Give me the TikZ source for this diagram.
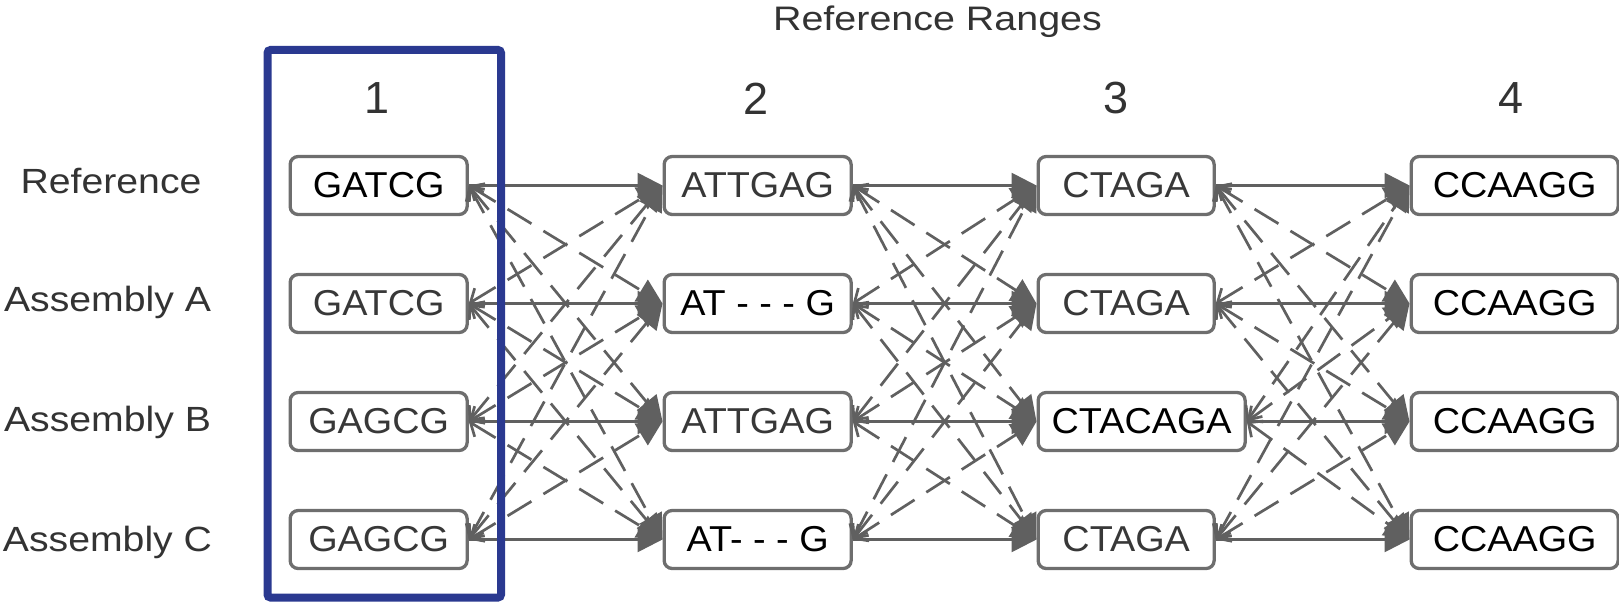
\documentclass[tikz,border=0pt]{standalone}
\usepackage{graphicx}
\usepackage{fontspec}
\setmainfont{Liberation Sans}
\usetikzlibrary{arrows.meta}

\definecolor{boxline}{HTML}{6E6E6E}
\definecolor{linkline}{HTML}{606060}
\definecolor{labeltext}{HTML}{333333}
\definecolor{seqgray}{HTML}{383838}
\definecolor{frameblue}{RGB}{42,57,144}

% slightly widened sans lettering
\newcommand{\wideseq}[1]{\scalebox{1.05}[1]{#1}}
\newcommand{\widelabel}[1]{\scalebox{1.12}[1]{#1}}
\newcommand{\widetitle}[1]{\scalebox{1.16}[1]{#1}}

\tikzset{
  seqbox/.style={draw=boxline, line width=3.3pt, rounded corners=8pt, fill=white,
    minimum height=58pt, inner sep=0pt, anchor=west,
    font=\fontsize{36}{40}\selectfont},
  plainseq/.style={text=seqgray},
  markseq/.style={text=black},
  rowlabel/.style={font=\fontsize{35}{40}\selectfont, text=labeltext, anchor=base},
  colnum/.style={font=\fontsize{45}{48}\selectfont, text=labeltext},
  link/.style={draw=linkline, line width=2.7pt, -{Triangle[length=25pt,width=25pt]}},
  altlink/.style={draw=linkline, line width=2.7pt, dash pattern=on 28pt off 14pt,
    {Straight Barb[length=11pt,width=20pt]}-{Triangle[length=25pt,width=25pt]}},
  rangeframe/.style={draw=frameblue, line width=8pt, rounded corners=3pt},
}

\begin{document}
\begin{tikzpicture}[x=1pt,y=-1pt]
\useasboundingbox (0,0) rectangle (1619,602);

% title and column numbers
\node[font=\fontsize{34}{40}\selectfont, text=labeltext, anchor=base] (title) at (937.5,31) {\widetitle{Reference Ranges}};
\node[colnum] (num1) at (377,98.5) {1};
\node[colnum] (num2) at (756.5,98.5) {2};
\node[colnum] (num3) at (1116,98.5) {3};
\node[colnum] (num4) at (1511,98.5) {4};

% row labels
\node[rowlabel] (lab1) at (111,193.3) {\widelabel{Reference}};
\node[rowlabel] (lab2) at (107.5,311.7) {\widelabel{Assembly A}};
\node[rowlabel] (lab3) at (107.5,431.7) {\widelabel{Assembly B}};
\node[rowlabel] (lab4) at (107.5,551.7) {\widelabel{Assembly C}};

% range 1
\node[seqbox, markseq,  minimum width=177pt] (n-1-1) at (288.5,185.5) {\wideseq{GATCG}};
\node[seqbox, plainseq, minimum width=177pt] (n-1-2) at (288.5,303.5) {\wideseq{GATCG}};
\node[seqbox, plainseq, minimum width=177pt] (n-1-3) at (288.5,421.5) {\wideseq{GAGCG}};
\node[seqbox, plainseq, minimum width=177pt] (n-1-4) at (288.5,539.5) {\wideseq{GAGCG}};
% range 2
\node[seqbox, plainseq, minimum width=187pt] (n-2-1) at (662.5,185.5) {\wideseq{ATTGAG}};
\node[seqbox, markseq,  minimum width=187pt] (n-2-2) at (662.5,303.5) {\wideseq{AT - - - G}};
\node[seqbox, plainseq, minimum width=187pt] (n-2-3) at (662.5,421.5) {\wideseq{ATTGAG}};
\node[seqbox, markseq,  minimum width=187pt] (n-2-4) at (662.5,539.5) {\wideseq{AT- - - G}};
% range 3
\node[seqbox, plainseq, minimum width=176pt] (n-3-1) at (1036.5,185.5) {\wideseq{CTAGA}};
\node[seqbox, plainseq, minimum width=176pt] (n-3-2) at (1036.5,303.5) {\wideseq{CTAGA}};
\node[seqbox, markseq,  minimum width=207pt] (n-3-3) at (1036.5,421.5) {\wideseq{CTACAGA}};
\node[seqbox, plainseq, minimum width=176pt] (n-3-4) at (1036.5,539.5) {\wideseq{CTAGA}};
% range 4
\node[seqbox, markseq, minimum width=207pt] (n-4-1) at (1409.5,185.5) {\wideseq{CCAAGG}};
\node[seqbox, markseq, minimum width=207pt] (n-4-2) at (1409.5,303.5) {\wideseq{CCAAGG}};
\node[seqbox, markseq, minimum width=207pt] (n-4-3) at (1409.5,421.5) {\wideseq{CCAAGG}};
\node[seqbox, markseq, minimum width=207pt] (n-4-4) at (1409.5,539.5) {\wideseq{CCAAGG}};

% every sequence links to every sequence of the next range:
% same row solid, other rows dashed
\foreach \c/\d in {1/2,2/3,3/4}{
  \foreach \r in {1,...,4}{
    \foreach \s in {1,...,4}{
      \ifnum\r=\s
        \draw[link] (n-\c-\r.east) -- (n-\d-\s.west);
      \else
        \draw[altlink] (n-\c-\r.east) -- (n-\d-\s.west);
      \fi
    }
  }
}

% highlighted first range
\draw[rangeframe] (267.5,50) rectangle (501,597.5);
\end{tikzpicture}
\end{document}
